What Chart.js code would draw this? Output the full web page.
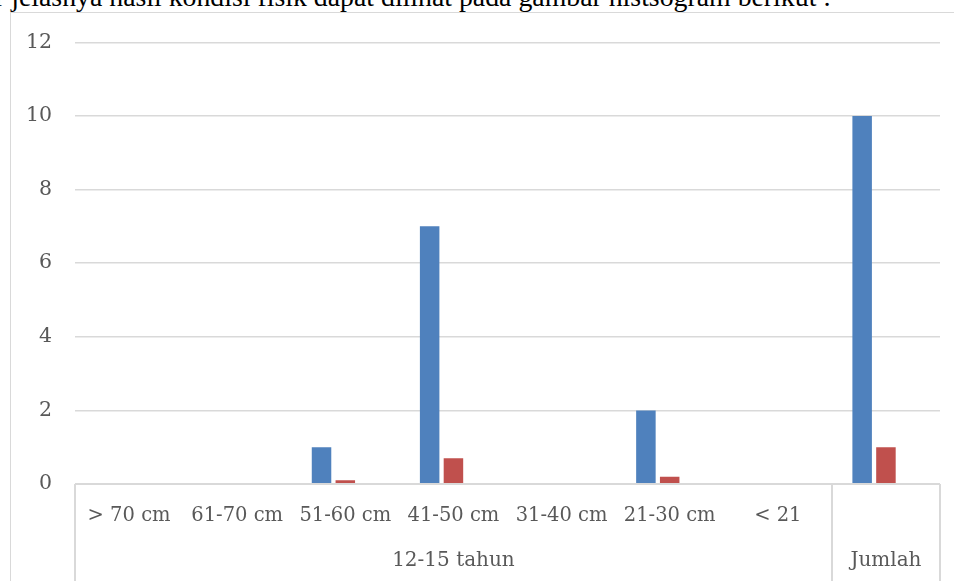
<!DOCTYPE html>
<html>
<head>
<meta charset="utf-8">
<script src="https://cdn.jsdelivr.net/npm/chart.js@4.4.1/dist/chart.umd.min.js"></script>
<style>
  html, body { margin: 0; padding: 0; background: #fff; overflow: hidden; width: 954px; height: 581px; position: relative; }
  #caption { position: absolute; left: -5px; top: -17px; font-family: "Liberation Serif", serif; font-size: 27.8px; line-height: 28px; color: #000; white-space: nowrap; }
  #frame { position: absolute; left: 10px; top: 12px; width: 960px; height: 575px; border: 1px solid #d9d9d9; background: #fff; overflow: hidden; }
  #frame canvas { display: block; margin-top: -6px; }
</style>
</head>
<body>
<div id="caption">r jelasnya hasil kondisi fisik dapat dilihat pada gambar histsogram berikut :</div>
<div id="frame"><canvas id="c" width="960" height="581"></canvas></div>
<script>
// Lengan (cm) categories for the 12-15 tahun group, plus the total column
const categories = ['> 70 cm', '61-70 cm', '51-60 cm', '41-50 cm', '31-40 cm', '21-30 cm', '< 21', ''];
// Group captions shown on the second axis row, with the number of categories each spans
const groupLabels = ['12-15 tahun', 'Jumlah'];
const groupSpans = [7, 1];

const seriesA = [0, 0, 1, 7, 0, 2, 0, 10];
const seriesB = [0, 0, 0.1, 0.7, 0, 0.2, 0, 1];
const seriesC = [0, 0, 0, 0, 0, 0, 0, 0];

const yTicks = [0, 2, 4, 6, 8, 10, 12];

const FONT = '"DejaVu Serif", serif';
const GRID = '#d9d9d9';
const TEXT = '#595959';

// Draws the boxed two-level category axis below the plot
const groupAxis = {
  id: 'groupAxis',
  afterDraw(chart) {
    const { ctx, chartArea } = chart;
    const bottom = chart.height;
    const step = (chartArea.right - chartArea.left) / categories.length;
    ctx.save();
    ctx.strokeStyle = GRID;
    ctx.lineWidth = 2;
    ctx.beginPath();
    ctx.moveTo(chartArea.left, chartArea.bottom);
    ctx.lineTo(chartArea.right, chartArea.bottom);
    // boundaries of each group
    let idx = 0;
    const bounds = [0];
    groupSpans.forEach(s => { idx += s; bounds.push(idx); });
    bounds.forEach(b => {
      const px = Math.round(chartArea.left + b * step);
      ctx.moveTo(px, chartArea.bottom);
      ctx.lineTo(px, bottom - 6);
    });
    ctx.stroke();
    ctx.fillStyle = TEXT;
    ctx.font = '20px ' + FONT;
    ctx.textAlign = 'center';
    ctx.textBaseline = 'middle';
    groupLabels.forEach((g, i) => {
      const cx = chartArea.left + (bounds[i] + bounds[i + 1]) / 2 * step;
      ctx.fillText(g, cx, chartArea.bottom + 77);
    });
    ctx.restore();
  }
};

new Chart(document.getElementById('c'), {
  type: 'bar',
  data: {
    labels: categories,
    datasets: [
      { data: seriesA, backgroundColor: '#4f81bd', borderWidth: 0 },
      { data: seriesB, backgroundColor: '#c0504d', borderWidth: 0 },
      { data: seriesC, backgroundColor: '#9bbb59', borderWidth: 0 }
    ]
  },
  options: {
    responsive: false,
    animation: false,
    layout: { padding: { top: 0, right: 31, bottom: 0, left: 0 } },
    datasets: { bar: { categoryPercentage: 0.66, barPercentage: 0.82 } },
    plugins: { legend: { display: false }, tooltip: { enabled: false } },
    scales: {
      x: {
        grid: { display: false, drawTicks: false },
        border: { display: false },
        ticks: {
          color: TEXT, font: { family: FONT, size: 19.5 }, padding: 20,
          maxRotation: 0, autoSkip: false
        },
        afterFit(scale) { scale.height = 104; }
      },
      y: {
        min: 0, max: 12,
        afterBuildTicks(scale) { scale.ticks = yTicks.map(v => ({ value: v })); },
        grid: { color: GRID, lineWidth: 1.5, drawTicks: false },
        border: { display: false },
        ticks: { color: TEXT, font: { family: FONT, size: 20.5 }, padding: 23 },
        afterFit(scale) { scale.width = 64; }
      }
    }
  },
  plugins: [groupAxis]
});
</script>
</body>
</html>
